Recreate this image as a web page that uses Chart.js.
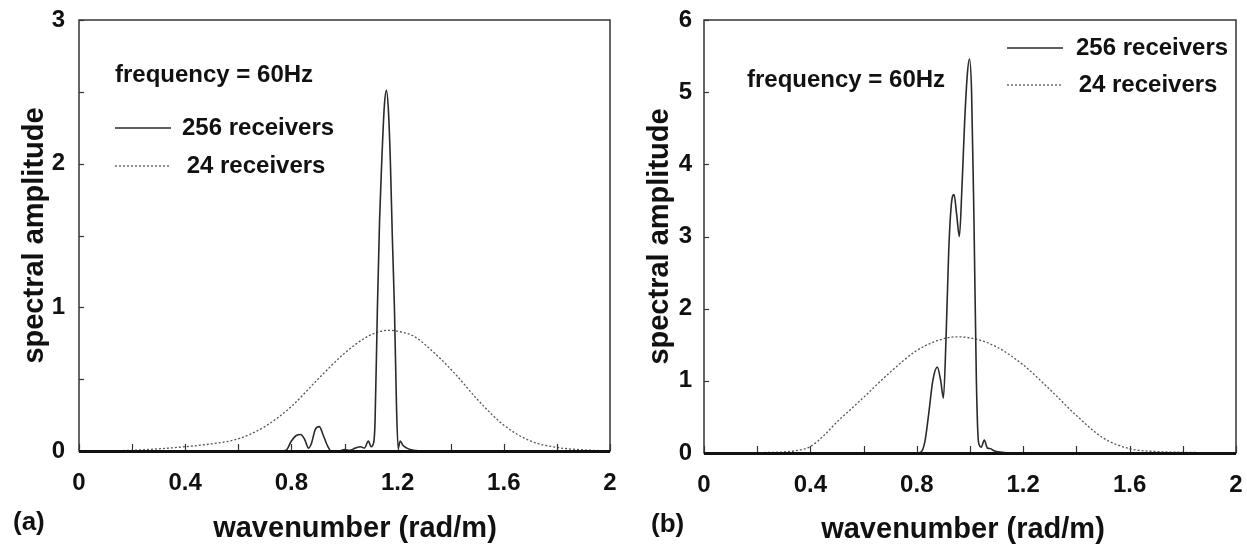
<!DOCTYPE html>
<html>
<head>
<meta charset="utf-8">
<script src="https://cdn.jsdelivr.net/npm/chart.js@4.4.0/dist/chart.umd.min.js"></script>
<style>
  html, body { margin: 0; padding: 0; background: #fff; }
  #page { position: relative; width: 1247px; height: 549px; overflow: hidden; }
  canvas { position: absolute; top: 0; }
  #chartA { left: 0; }
  #chartB { left: 623px; }
  .panel-tag { position: absolute; font: bold 26px "Liberation Sans", Arial, sans-serif; color: #111; line-height: 30px; }
</style>
</head>
<body>
<div id="page">
  <canvas id="chartA" width="623" height="549"></canvas>
  <canvas id="chartB" width="624" height="549"></canvas>
  <div class="panel-tag" style="left:13px; top:506px;">(a)</div>
  <div class="panel-tag" style="left:651px; top:508px;">(b)</div>
</div>
<script>
// =========================
// DATA
// =========================
const xTickLabels = ['0', '0.4', '0.8', '1.2', '1.6', '2'];

// (a) 256 receivers
const waveA256 = [0, 0.76, 0.78, 0.80, 0.82, 0.835, 0.85, 0.865, 0.875, 0.89, 0.905, 0.92, 0.935, 0.95,
  0.98, 1.0, 1.02, 1.04, 1.06, 1.075, 1.09, 1.10, 1.11, 1.115, 1.124, 1.132, 1.14, 1.15, 1.158, 1.166,
  1.173, 1.18, 1.188, 1.196, 1.202, 1.21, 1.22, 1.235, 1.26, 1.3, 2.0];
const ampA256 = [0, 0, 0.005, 0.07, 0.11, 0.115, 0.08, 0.02, 0.05, 0.15, 0.17, 0.11, 0.04, 0,
  0, 0.01, 0.005, 0.02, 0.03, 0.02, 0.07, 0.03, 0.06, 0.2, 1.0, 1.6, 2.0, 2.4, 2.51, 2.35,
  2.0, 1.5, 1.0, 0.3, 0.02, 0.07, 0.04, 0.02, 0.005, 0, 0];

// (a) 24 receivers
const waveA24 = [0, 0.2, 0.3, 0.4, 0.5, 0.6, 0.7, 0.8, 0.9, 1.0, 1.08, 1.13, 1.17, 1.21, 1.26, 1.34,
  1.42, 1.5, 1.6, 1.7, 1.8, 1.9, 2.0];
const ampA24 = [0, 0.005, 0.015, 0.03, 0.05, 0.085, 0.17, 0.31, 0.5, 0.68, 0.79, 0.83, 0.84, 0.83, 0.8, 0.68,
  0.53, 0.36, 0.18, 0.07, 0.025, 0.008, 0];

// (b) 256 receivers
const waveB256 = [0, 0.80, 0.815, 0.83, 0.845, 0.86, 0.877, 0.89, 0.90, 0.91, 0.92, 0.93, 0.94, 0.95,
  0.96, 0.97, 0.98, 0.99, 0.998, 1.006, 1.015, 1.024, 1.032, 1.042, 1.054, 1.065, 1.078, 1.09, 1.12, 1.15, 2.0];
const ampB256 = [0, 0, 0.01, 0.15, 0.55, 1.0, 1.19, 1.0, 0.76, 1.6, 2.8, 3.45, 3.58, 3.3,
  3.0, 3.7, 4.6, 5.25, 5.46, 5.0, 3.2, 1.0, 0.15, 0.08, 0.18, 0.07, 0.06, 0.03, 0.01, 0, 0];

// (b) 24 receivers
const waveB24 = [0, 0.2, 0.3, 0.35, 0.4, 0.45, 0.5, 0.55, 0.6, 0.7, 0.8, 0.88, 0.95, 1.02, 1.1, 1.2, 1.3, 1.4,
  1.5, 1.6, 1.7, 1.8, 2.0];
const ampB24 = [0, 0.005, 0.015, 0.035, 0.09, 0.24, 0.43, 0.6, 0.77, 1.12, 1.42, 1.56, 1.61, 1.58, 1.47, 1.22, 0.88, 0.52,
  0.21, 0.06, 0.02, 0.01, 0];

const FONT = '"Liberation Sans", Arial, sans-serif';
const INK = '#111';

const toPoints = (xs, ys) => xs.map((x, i) => ({ x: x, y: ys[i] }));

// box around the plot + inward tick marks
const framePlugin = {
  id: 'frame',
  afterDatasetsDraw(chart) {
    const { ctx, chartArea: a, scales } = chart;
    ctx.save();
    ctx.strokeStyle = '#333';
    ctx.lineWidth = 1.5;
    ctx.strokeRect(a.left, a.top, a.right - a.left, a.bottom - a.top);

    // inward ticks
    ctx.lineWidth = 1.2;
    scales.x.ticks.forEach(t => {
      const px = Math.round(scales.x.getPixelForValue(t.value)) + 0.5;
      ctx.beginPath();
      ctx.moveTo(px, a.bottom);
      ctx.lineTo(px, a.bottom - 7);
      ctx.stroke();
    });
    scales.y.ticks.forEach(t => {
      const py = Math.round(scales.y.getPixelForValue(t.value)) + 0.5;
      ctx.beginPath();
      ctx.moveTo(a.left, py);
      ctx.lineTo(a.left + 5, py);
      ctx.stroke();
    });

    // heavy baseline
    ctx.strokeStyle = '#111';
    ctx.lineWidth = 3;
    ctx.beginPath();
    ctx.moveTo(a.left, a.bottom + 0.5);
    ctx.lineTo(a.right, a.bottom + 0.5);
    ctx.stroke();
    ctx.restore();
  }
};

// "frequency = 60Hz" note, the inline legend and the x axis title
const notesPlugin = {
  id: 'notes',
  afterDraw(chart, args, opts) {
    const ctx = chart.ctx;
    ctx.save();
    ctx.fillStyle = INK;
    ctx.font = 'bold 24px ' + FONT;
    ctx.textBaseline = 'middle';
    ctx.fillText(opts.freq.text, opts.freq.x, opts.freq.y);

    opts.rows.forEach((row, i) => {
      const ds = chart.data.datasets[i];
      ctx.strokeStyle = ds.borderColor;
      ctx.lineWidth = ds.borderWidth;
      ctx.setLineDash(ds.borderDash || []);
      ctx.beginPath();
      ctx.moveTo(row.x0, row.y);
      ctx.lineTo(row.x1, row.y);
      ctx.stroke();
      ctx.setLineDash([]);
      ctx.fillText(ds.label, row.tx, row.y);
    });

    // x title sits a little off the plot centre in the original
    const xt = chart.options.scales.x.title;
    ctx.font = 'bold 29px ' + FONT;
    ctx.textAlign = 'center';
    ctx.fillText(xt.text, opts.xTitle.x, opts.xTitle.y);
    ctx.restore();
  }
};

function makeChart(id, cfg) {
  const tickFont = { family: FONT, size: 24, weight: 'bold' };
  const titleFont = { family: FONT, size: 29, weight: 'bold' };
  return new Chart(document.getElementById(id), {
    type: 'line',
    data: {
      datasets: [{
        label: '256 receivers',
        data: toPoints(cfg.wave256, cfg.amp256),
        borderColor: '#2a2a2a',
        borderWidth: 1.6,
        pointRadius: 0,
        cubicInterpolationMode: 'monotone',
        fill: false
      }, {
        label: ' 24 receivers',
        data: toPoints(cfg.wave24, cfg.amp24),
        borderColor: '#555',
        borderWidth: 1.3,
        borderDash: [2, 2],
        pointRadius: 0,
        cubicInterpolationMode: 'monotone',
        fill: false
      }]
    },
    options: {
      responsive: false,
      animation: false,
      events: [],
      layout: { padding: cfg.padding },
      plugins: {
        legend: { display: false },
        tooltip: { enabled: false },
        notes: cfg.notes
      },
      scales: {
        x: {
          type: 'linear',
          min: 0,
          max: 2,
          grid: { display: false, drawTicks: false },
          border: { display: false },
          ticks: {
            stepSize: 0.2,
            autoSkip: false,
            maxRotation: 0,
            padding: 18,
            color: INK,
            font: tickFont,
            callback: v => {
              const k = Math.round(v * 10);
              return k % 4 === 0 ? xTickLabels[k / 4] : '';
            }
          },
          title: {
            display: false,
            text: 'wavenumber (rad/m)'
          },
          afterFit: s => {
            s.height = cfg.xHeight;
            s.paddingLeft = 0;
            s.paddingRight = 0;
          }
        },
        y: {
          min: 0,
          max: cfg.yMax,
          grid: { display: false, drawTicks: false },
          border: { display: false },
          ticks: {
            stepSize: cfg.yStep,
            padding: cfg.yPad,
            color: INK,
            font: tickFont,
            callback: v => (Number.isInteger(v) ? String(v) : '')
          },
          title: {
            display: true,
            text: 'spectral amplitude',
            color: INK,
            font: titleFont,
            padding: { top: cfg.yTitlePad, bottom: 0 }
          },
          afterFit: s => {
            s.width = cfg.yWidth;
            s.paddingTop = 0;
            s.paddingBottom = 0;
          }
        }
      }
    },
    plugins: [framePlugin, notesPlugin]
  });
}

makeChart('chartA', {
  wave256: waveA256, amp256: ampA256,
  wave24: waveA24, amp24: ampA24,
  padding: { top: 20, right: 13, left: 0, bottom: 0 },
  xHeight: 98, yWidth: 79, yMax: 3, yStep: 0.5, yPad: 14, yTitlePad: 18,
  notes: {
    freq: { text: 'frequency = 60Hz', x: 115, y: 75 },
    rows: [
      { x0: 115, x1: 171, tx: 182, y: 128 },
      { x0: 115, x1: 171, tx: 180, y: 166 }
    ],
    xTitle: { x: 355, y: 529 }
  }
});

makeChart('chartB', {
  wave256: waveB256, amp256: ampB256,
  wave24: waveB24, amp24: ampB24,
  padding: { top: 20, right: 11, left: 0, bottom: 0 },
  xHeight: 96, yWidth: 81, yMax: 6, yStep: 1, yPad: 12, yTitlePad: 20,
  notes: {
    freq: { text: 'frequency = 60Hz', x: 124, y: 80 },
    rows: [
      { x0: 384, x1: 440, tx: 453, y: 48 },
      { x0: 384, x1: 440, tx: 449, y: 85 }
    ],
    xTitle: { x: 340, y: 530 }
  }
});
</script>
</body>
</html>
